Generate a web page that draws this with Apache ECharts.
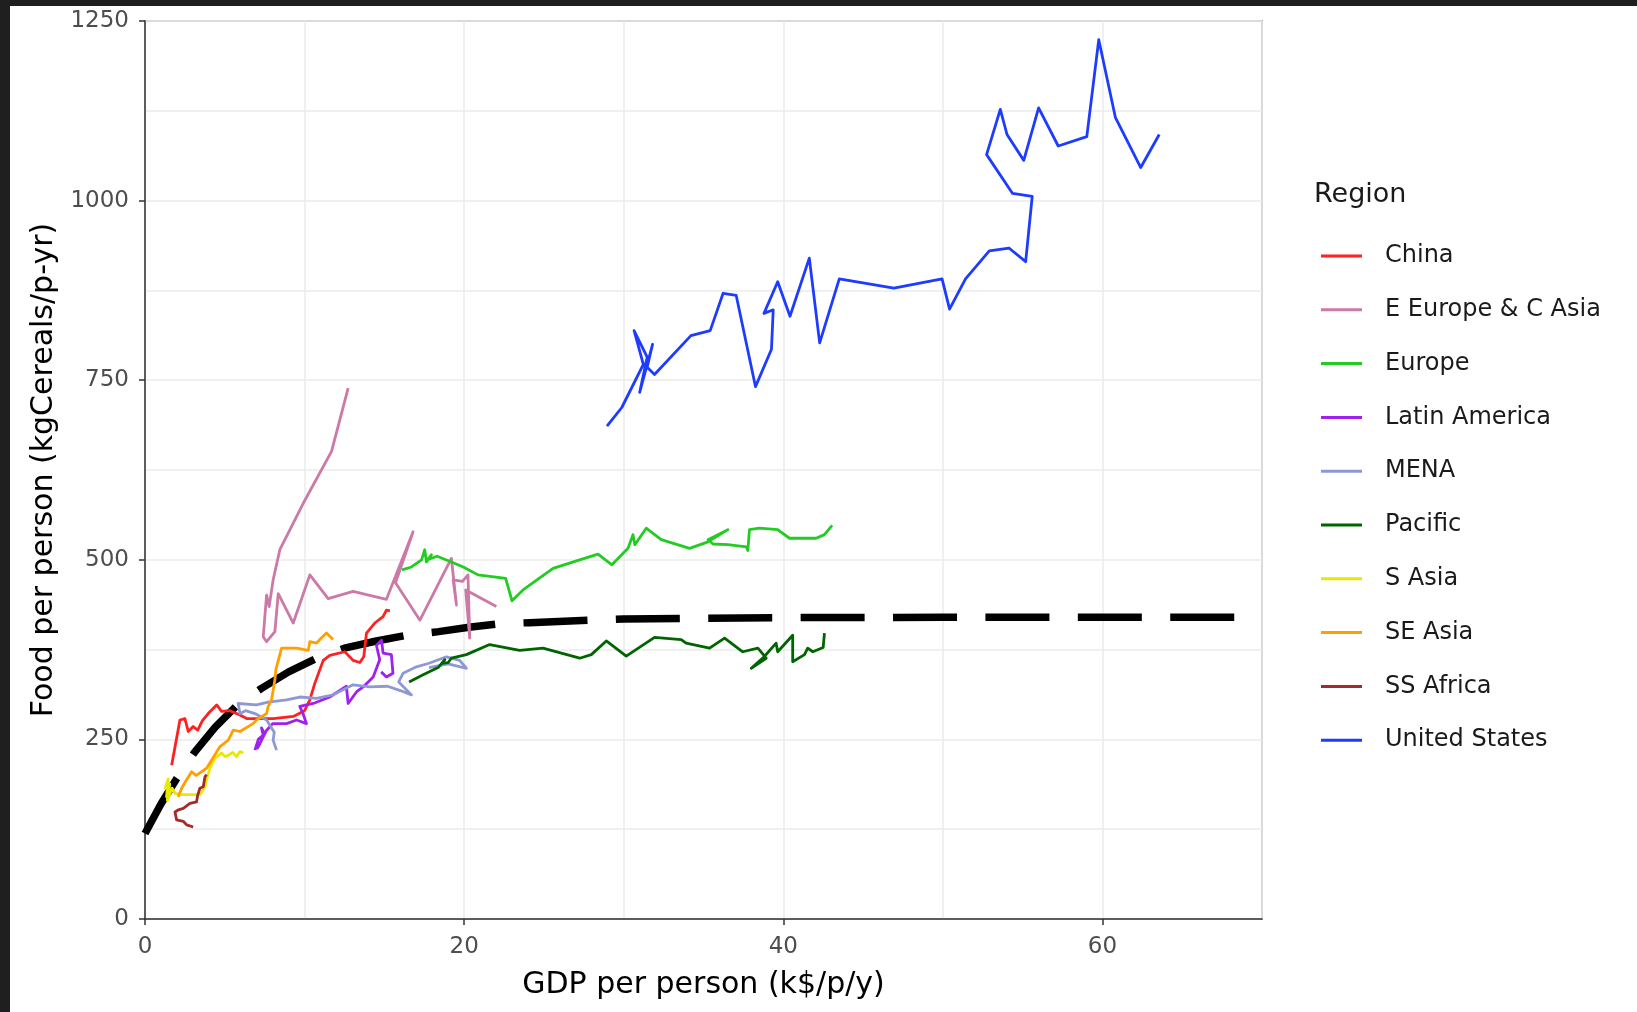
<!DOCTYPE html>
<html>
<head>
<meta charset="utf-8">
<script src="https://cdn.jsdelivr.net/npm/echarts@6/dist/echarts.min.js"></script>
<style>
  html, body { margin: 0; padding: 0; background: #1f1f1f; width: 1637px; height: 1012px; overflow: hidden; }
  #chart { position: absolute; left: 10px; top: 6px; width: 1627px; height: 1006px; background: #ffffff; }
</style>
</head>
<body>
<div id="chart"></div>
<script>
// Region names in legend order
const regionNames = ['China', 'E Europe & C Asia', 'Europe', 'Latin America', 'MENA',
  'Pacific', 'S Asia', 'SE Asia', 'SS Africa', 'United States'];

// Axis tick values (labelled ticks)
const xTickValues = [0, 20, 40, 60];
const yTickValues = [0, 250, 500, 750, 1000, 1250];

// Each region's path: [GDP per person (k$/p/y), food per person (kgCereals/p-yr)]
const china = [[1.67,214],[2.19,277],[2.5,279],[2.71,261],[3.02,268],[3.3,263],[3.6,276],[3.96,286],
  [4.49,298],[4.8,289],[5.3,290],[5.95,284],[6.37,279],[8.03,279],[9.29,282],[10.0,290],[10.33,305],
  [10.64,328],[11.17,360],[11.58,367],[12.52,372],[13.04,360],[13.46,357],[13.71,365],[13.88,398],
  [14.4,412],[14.92,421],[15.13,430],[15.35,429]];

const eEurope = [[12.73,739],[11.69,651],[9.9,578],[8.45,514],[8.03,472],[7.78,435],[7.62,451],
  [7.41,393],[7.62,386],[8.14,400],[8.35,453],[9.29,412],[10.33,479],[11.48,446],[13.04,456],
  [15.13,445],[16.8,539],[15.7,468],[17.23,416],[19.2,502],[19.52,437],[19.31,472],[19.9,470],
  [20.24,479],[20.35,391],[20.1,458],[22.02,435]];

const europe = [[16.1,486],[16.7,490],[17.33,500],[17.53,514],[17.64,497],[17.95,507],[17.7,500],
  [18.3,505],[19.21,497],[19.94,490],[20.87,479],[22.6,474],[23.0,443],[23.69,458],[25.57,488],
  [27.24,500],[28.39,508],[29.26,493],[30.27,516],[30.58,535],[30.7,521],[31.41,544],[32.35,528],
  [34.13,516],[35.28,525],[36.53,542],[35.28,528],[35.6,522],[36.53,521],[37.68,518],[37.78,513],
  [37.88,542],[38.51,544],[39.65,542],[40.39,530],[42.06,530],[42.58,535],[43.06,548]];

const latinAmerica = [[6.89,235],[7.1,250],[7.41,256],[7.3,266],[7.5,258],[7.2,244],[7.05,238],
  [7.6,262],[8.0,272],[8.87,272],[9.5,277],[10.12,272],[9.9,286],[9.7,296],[10.54,300],[11.58,309],
  [12.62,324],[12.73,300],[13.25,316],[13.67,323],[14.3,337],[14.71,361],[14.5,381],[14.82,388],
  [14.92,370],[15.44,368],[15.54,342],[15.13,337],[14.8,344]];

const mena = [[8.24,235],[8.03,249],[8.1,260],[7.62,277],[6.89,286],[6.3,290],[5.95,286],[5.84,300],
  [6.99,298],[7.72,302],[8.87,305],[9.7,309],[10.75,307],[11.79,312],[13.04,326],[14.09,323],
  [15.2,324],[16.0,318],[16.7,312],[15.9,330],[16.17,342],[17.01,351],[17.8,356],[18.89,365],
  [19.72,360],[20.14,349],[19.0,355],[17.8,350]];

const pacific = [[16.55,330],[17.43,340],[18.37,350],[18.79,361],[18.6,356],[19.0,357],[19.2,363],
  [20.14,368],[21.6,382],[23.48,374],[24.94,377],[27.24,363],[27.97,368],[28.91,387],[30.16,366],
  [31.93,392],[33.6,389],[33.91,384],[35.38,377],[36.32,391],[37.46,372],[38.41,377],[38.93,363],
  [37.99,349],[38.8,365],[39.55,384],[39.65,372],[40.59,395],[40.59,358],[41.33,368],[41.53,377],
  [41.85,372],[42.5,378],[42.58,398]];

const sAsia = [[1.25,180],[1.45,195],[1.35,170],[1.55,188],[1.4,165],[1.7,182],[1.88,175],[2.29,173],
  [2.82,173],[3.44,173],[3.76,184],[3.86,194],[4.07,210],[4.38,224],[4.8,231],[5.02,226],[5.22,228],
  [5.5,232],[5.74,226],[5.95,233],[6.16,231]];

const seAsia = [[2.08,170],[2.3,182],[2.5,190],[2.92,205],[3.2,200],[3.55,205],[3.86,210],[4.17,221],
  [4.7,240],[5.22,249],[5.53,263],[5.95,261],[6.78,272],[6.99,277],[7.62,286],[7.72,296],[7.93,305],
  [8.14,333],[8.2,347],[8.56,377],[9.5,377],[10.23,374],[10.33,386],[10.75,384],[11.0,390],
  [11.37,398],[11.79,389]];

const ssAfrica = [[3.02,128],[2.61,131],[2.4,136],[1.98,138],[1.88,149],[2.1,152],[2.4,154],[2.82,161],
  [3.23,163],[3.3,172],[3.44,182],[3.65,184],[3.76,198],[3.86,201]];

const unitedStates = [[28.95,686],[29.88,712],[31.23,772],[30.65,819],[31.47,782],[31.0,733],
  [31.81,800],[31.47,768],[31.93,758],[34.21,812],[35.42,819],[36.23,871],[37.05,868],[38.26,741],
  [39.26,793],[39.37,848],[38.79,843],[39.65,887],[40.42,839],[41.63,920],[42.28,802],[43.51,891],
  [46.93,878],[49.95,891],[50.42,849],[51.42,891],[52.91,930],[54.14,934],[55.19,915],[55.6,1006],
  [54.37,1010],[52.74,1064],[53.6,1127],[54.02,1092],[55.07,1056],[56.0,1129],[57.23,1076],
  [59.02,1089],[59.77,1224],[60.81,1116],[62.4,1046],[63.56,1092]];

// Saturating trend curve across the GDP range
const trendGdp  = [0, 1, 2, 3.1, 4.4, 5.7, 7.3, 9.0, 10.75, 12.5, 14.5, 16.4, 18.4, 20.3, 22.2, 24.1, 28, 30, 34, 40, 50, 60, 69.3];
const trendFood = [119, 160, 196, 232, 267, 296, 321, 344, 363, 377, 387, 395, 400, 406, 411, 412.5, 416, 417.5, 418.5, 419.5, 420, 420, 420];

const regionData = [china, eEurope, europe, latinAmerica, mena, pacific, sAsia, seAsia, ssAfrica, unitedStates];
const regionColors = ['#FF2020', '#CC79A7', '#22CC22', '#A020F0', '#8E98D6',
  '#006400', '#E8E800', '#FFA000', '#A52A2A', '#1E3CFF'];

const FONT = 'DejaVu Sans';

const seriesList = [{
  name: 'trend',
  type: 'line',
  data: trendGdp.map((g, i) => [g, trendFood[i]]),
  showSymbol: false,
  silent: true,
  z: 1,
  lineStyle: { color: '#000000', width: 7.5, type: [64, 28.4], cap: 'butt', join: 'round' }
}];

regionNames.forEach((name, i) => {
  seriesList.push({
    name: name,
    type: 'line',
    data: regionData[i],
    showSymbol: false,
    silent: true,
    z: 2,
    itemStyle: { color: regionColors[i] },
    lineStyle: { color: regionColors[i], width: 2.8, join: 'round' }
  });
});

const axisText = { fontFamily: FONT, fontSize: 23, color: '#4D4D4D' };
const nameText = { fontFamily: FONT, fontSize: 30, color: '#000000' };
const tickStyle = { color: '#333333', width: 1.5 };
const gridLine = { color: '#EBEBEB', width: 1.5 };

const chart = echarts.init(document.getElementById('chart'), null, { renderer: 'canvas' });
chart.setOption({
  animation: false,
  backgroundColor: '#ffffff',
  title: {
    text: 'Region',
    left: 1304,
    top: 175,
    padding: 0,
    textStyle: { fontFamily: FONT, fontSize: 27, fontWeight: 'normal', color: '#1a1a1a' }
  },
  legend: {
    data: regionNames,
    orient: 'vertical',
    left: 1311,
    top: 238,
    padding: 0,
    icon: 'rect',
    itemWidth: 41,
    itemHeight: 3,
    itemGap: 29.8,
    selectedMode: false,
    textStyle: { fontFamily: FONT, fontSize: 24, color: '#1a1a1a', lineHeight: 24, padding: [0, 0, 0, 18] }
  },
  grid: {
    left: 135, top: 15, width: 1117, height: 898,
    show: true, borderColor: '#A6A6A6', borderWidth: 2, backgroundColor: '#ffffff'
  },
  xAxis: [{
    // grid lines every 10, labels at the major ticks
    type: 'value',
    min: 0, max: 70, interval: 10,
    name: 'GDP per person (k$/p/y)',
    nameLocation: 'middle',
    nameGap: 51,
    nameTextStyle: nameText,
    axisLine: { show: true, onZero: false, lineStyle: tickStyle },
    axisTick: { show: false },
    axisLabel: { customValues: xTickValues, margin: 17, formatter: v => String(v), ...axisText },
    splitLine: { show: true, lineStyle: gridLine }
  }, {
    // outward tick marks at the labelled values
    type: 'value',
    position: 'bottom',
    min: 0, max: 70, interval: 10,
    axisLine: { show: false },
    axisTick: { show: true, length: 6, customValues: xTickValues, lineStyle: tickStyle },
    axisLabel: { show: false },
    splitLine: { show: false }
  }],
  yAxis: [{
    type: 'value',
    min: 0, max: 1250, interval: 125,
    name: 'Food per person (kgCereals/p-yr)',
    nameLocation: 'middle',
    nameGap: 80,
    nameTextStyle: nameText,
    axisLine: { show: true, onZero: false, lineStyle: tickStyle },
    axisTick: { show: false },
    axisLabel: { customValues: yTickValues, margin: 16, formatter: v => String(v), ...axisText },
    splitLine: { show: true, lineStyle: gridLine }
  }, {
    type: 'value',
    position: 'left',
    min: 0, max: 1250, interval: 125,
    axisLine: { show: false },
    axisTick: { show: true, length: 6, customValues: yTickValues, lineStyle: tickStyle },
    axisLabel: { show: false },
    splitLine: { show: false }
  }],
  series: seriesList
});
</script>
</body>
</html>
